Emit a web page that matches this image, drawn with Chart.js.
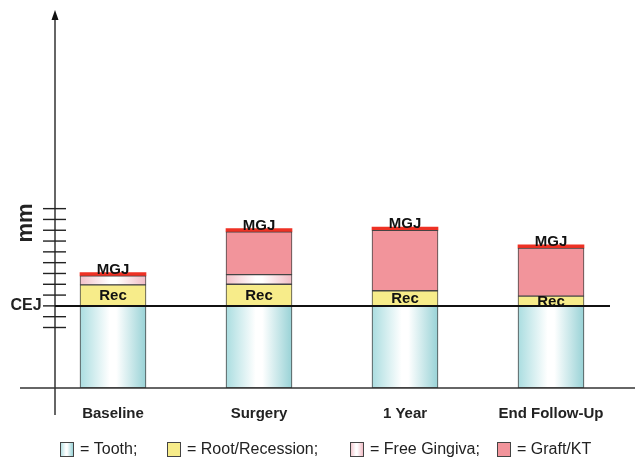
<!DOCTYPE html>
<html>
<head>
<meta charset="utf-8">
<script src="https://cdn.jsdelivr.net/npm/chart.js@4/dist/chart.umd.min.js"></script>
<style>
  html, body { margin: 0; padding: 0; background: #fff; }
  #wrap { width: 635px; height: 461px; position: relative; }
</style>
</head>
<body>
<div id="wrap"><canvas id="gum-chart" width="635" height="461"></canvas></div>
<script>
// values in mm, measured from the CEJ
const categories = ["Baseline", "Surgery", "1 Year", "End Follow-Up"];
const tooth = [-7.6, -7.6, -7.6, -7.6];
const recession = [1.95, 2.0, 1.4, 0.9];
const freeGingiva = [0.83, 0.9, null, null];
const graftKT = [null, 3.95, 5.6, 4.45];
const mgjLine = [0.3, 0.3, 0.3, 0.3];
const yTicks = [-2, -1, 0, 1, 2, 3, 4, 5, 6, 7, 8, 9];
const legendItems = ["= Tooth;", "= Root/Recession;", "= Free Gingiva;", "= Graft/KT"];

const FONT = '"Liberation Sans", Arial, sans-serif';
const BAR_W = 66;

function sideGradient(ctx, x0, w, edgeL, edgeR) {
  const g = ctx.createLinearGradient(x0, 0, x0 + w, 0);
  g.addColorStop(0, edgeL);
  g.addColorStop(0.45, '#ffffff');
  g.addColorStop(0.55, '#ffffff');
  g.addColorStop(1, edgeR);
  return g;
}

const toothFill = c => {
  const chart = c.chart;
  if (!chart.chartArea || !chart.scales.x) return '#c6e9eb';
  const xc = chart.scales.x.getPixelForValue(c.dataIndex);
  return sideGradient(chart.ctx, xc - BAR_W / 2, BAR_W, '#aadde0', '#98d2d6');
};
const gingivaFill = c => {
  const chart = c.chart;
  if (!chart.chartArea || !chart.scales.x) return '#f6d6db';
  const xc = chart.scales.x.getPixelForValue(c.dataIndex);
  return sideGradient(chart.ctx, xc - BAR_W / 2, BAR_W, '#f3c1c9', '#f1bcc5');
};

const overlay = {
  id: 'overlay',
  afterDatasetsDraw(chart) {
    const ctx = chart.ctx;
    const x = chart.scales.x, y = chart.scales.y;
    const area = chart.chartArea;
    const axisX = 55;
    ctx.save();

    // x axis
    ctx.strokeStyle = '#333';
    ctx.lineWidth = 1.5;
    ctx.beginPath();
    ctx.moveTo(20, area.bottom);
    ctx.lineTo(635, area.bottom);
    ctx.stroke();

    // y axis with arrow
    ctx.beginPath();
    ctx.moveTo(axisX, 415);
    ctx.lineTo(axisX, area.top + 6);
    ctx.stroke();
    ctx.fillStyle = '#111';
    ctx.beginPath();
    ctx.moveTo(axisX, area.top - 2);
    ctx.lineTo(axisX - 3.5, area.top + 8);
    ctx.lineTo(axisX + 3.5, area.top + 8);
    ctx.closePath();
    ctx.fill();

    // mm ticks
    ctx.strokeStyle = '#222';
    ctx.lineWidth = 1.4;
    yTicks.forEach(v => {
      const py = y.getPixelForValue(v);
      ctx.beginPath();
      ctx.moveTo(43, py);
      ctx.lineTo(66, py);
      ctx.stroke();
    });

    // CEJ line
    const cej = y.getPixelForValue(0);
    ctx.strokeStyle = '#111';
    ctx.lineWidth = 2;
    ctx.beginPath();
    ctx.moveTo(axisX, cej);
    ctx.lineTo(610, cej);
    ctx.stroke();

    ctx.fillStyle = '#222';
    ctx.textAlign = 'center';
    ctx.textBaseline = 'middle';
    ctx.font = 'bold 16px ' + FONT;
    ctx.fillText('CEJ', 26, cej);

    ctx.save();
    ctx.translate(26, 223);
    ctx.rotate(-Math.PI / 2);
    ctx.font = 'bold 22px ' + FONT;
    ctx.fillText('mm', 0, 0);
    ctx.restore();

    // bar labels
    categories.forEach((name, i) => {
      const xc = x.getPixelForValue(i);
      ctx.font = 'bold 15px ' + FONT;
      ctx.textBaseline = 'middle';
      ctx.fillStyle = '#111';
      ctx.fillText('Rec', xc, y.getPixelForValue(recession[i] / 2) + 1);

      const top = recession[i] + (freeGingiva[i] || 0) + (graftKT[i] || 0);
      ctx.textBaseline = 'alphabetic';
      ctx.fillText('MGJ', xc, y.getPixelForValue(top) - 2);

      ctx.fillStyle = '#222';
      ctx.font = 'bold 15px ' + FONT;
      ctx.textBaseline = 'middle';
      ctx.fillText(name, xc, 414);
    });

    // legend
    const fills = [
      sideGradient(ctx, 0, 13, '#aadde0', '#98d2d6'),
      '#f7ec8a',
      sideGradient(ctx, 0, 13, '#f3c1c9', '#f1bcc5'),
      '#f2949b'
    ];
    const starts = [60, 167, 350, 497];
    const ly = 449;
    ctx.font = '16px ' + FONT;
    ctx.textAlign = 'left';
    ctx.textBaseline = 'middle';
    legendItems.forEach((txt, i) => {
      const bx = starts[i];
      ctx.save();
      ctx.translate(bx, ly - 7);
      ctx.fillStyle = fills[i];
      ctx.fillRect(0, 0, 13, 14);
      ctx.strokeStyle = '#444';
      ctx.lineWidth = 1;
      ctx.strokeRect(0.5, 0.5, 13, 14);
      ctx.restore();
      ctx.fillStyle = '#222';
      ctx.fillText(txt, bx + 20, ly + 1);
    });

    ctx.restore();
  }
};

const barBase = {
  barThickness: BAR_W,
  borderColor: '#444',
  borderWidth: 1,
  borderSkipped: false
};

new Chart(document.getElementById('gum-chart'), {
  type: 'bar',
  data: {
    labels: categories,
    datasets: [
      { ...barBase, label: 'Tooth', data: tooth, backgroundColor: toothFill },
      { ...barBase, label: 'Root/Recession', data: recession, backgroundColor: '#f7ec8a' },
      { ...barBase, label: 'Free Gingiva', data: freeGingiva, backgroundColor: gingivaFill },
      { ...barBase, label: 'Graft/KT', data: graftKT, backgroundColor: '#f2949b' },
      { ...barBase, label: 'MGJ', data: mgjLine, backgroundColor: '#ee3124', borderWidth: 0 }
    ]
  },
  options: {
    responsive: false,
    animation: false,
    layout: { padding: { left: 40, right: 11, top: 12, bottom: 73 } },
    scales: {
      x: { display: false, stacked: true },
      y: { display: false, stacked: true, min: -7.6, max: 27.2 }
    },
    plugins: {
      legend: { display: false },
      tooltip: { enabled: false }
    }
  },
  plugins: [overlay]
});
</script>
</body>
</html>
